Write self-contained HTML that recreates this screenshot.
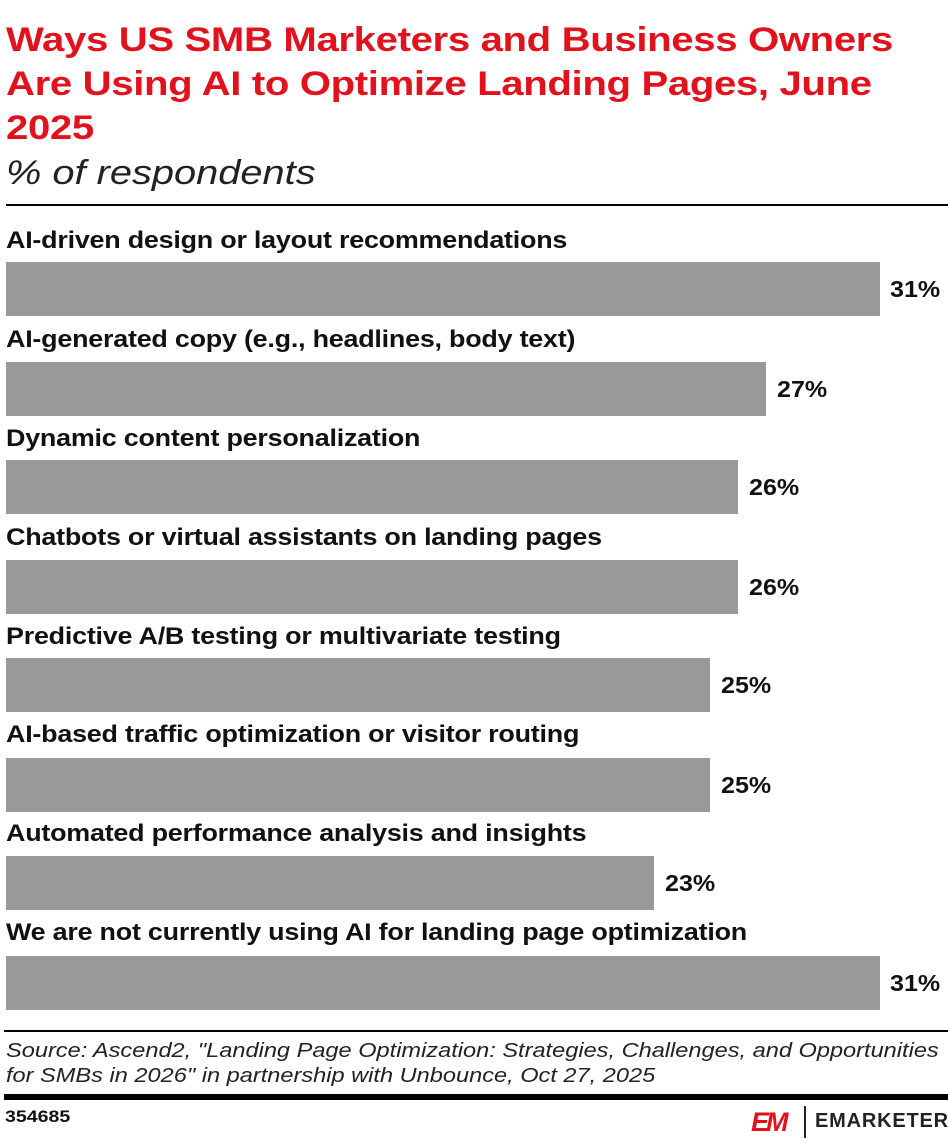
<!DOCTYPE html><html><head><style>
body{margin:0;width:948px;height:1142px;background:#fff;font-family:"Liberation Sans",sans-serif;position:relative;overflow:hidden}
.a{position:absolute;white-space:nowrap;transform-origin:0 0}
.t{left:6px;top:18px;color:#e3111b;font-weight:bold;font-size:34px;line-height:44px;letter-spacing:-0.3px;transform:scaleX(1.18)}
.s{left:6px;top:154px;font-style:italic;font-size:34px;color:#222;transform:scaleX(1.17)}
.l{left:6px;font-weight:bold;font-size:24px;color:#111;letter-spacing:-0.2px;transform:scaleX(1.12)}
.b{left:6px;height:54px;background:#999}
.v{font-weight:bold;font-size:23px;color:#111;transform:scaleX(1.09)}
</style></head><body>
<div class="a t">Ways US SMB Marketers and Business Owners<br>Are Using AI to Optimize Landing Pages, June<br>2025</div>
<div class="a s">% of respondents</div>
<div class="a" style="left:6px;top:204px;width:942px;height:2px;background:#000"></div>

<div class="a l" style="top:227px">AI-driven design or layout recommendations</div>
<div class="a b" style="top:262px;width:874px"></div><div class="a v" style="left:890px;top:276px">31%</div>
<div class="a l" style="top:326px">AI-generated copy (e.g., headlines, body text)</div>
<div class="a b" style="top:362px;width:760px"></div><div class="a v" style="left:777px;top:376px">27%</div>
<div class="a l" style="top:425px">Dynamic content personalization</div>
<div class="a b" style="top:460px;width:732px"></div><div class="a v" style="left:749px;top:474px">26%</div>
<div class="a l" style="top:524px">Chatbots or virtual assistants on landing pages</div>
<div class="a b" style="top:560px;width:732px"></div><div class="a v" style="left:749px;top:574px">26%</div>
<div class="a l" style="top:623px">Predictive A/B testing or multivariate testing</div>
<div class="a b" style="top:658px;width:704px"></div><div class="a v" style="left:721px;top:672px">25%</div>
<div class="a l" style="top:721px">AI-based traffic optimization or visitor routing</div>
<div class="a b" style="top:758px;width:704px"></div><div class="a v" style="left:721px;top:772px">25%</div>
<div class="a l" style="top:820px">Automated performance analysis and insights</div>
<div class="a b" style="top:856px;width:648px"></div><div class="a v" style="left:665px;top:870px">23%</div>
<div class="a l" style="top:919px">We are not currently using AI for landing page optimization</div>
<div class="a b" style="top:956px;width:874px"></div><div class="a v" style="left:890px;top:970px">31%</div>

<div class="a" style="left:4px;top:1030px;width:944px;height:2px;background:#000"></div>
<div class="a" style="left:6px;top:1038px;font-style:italic;font-size:20.5px;line-height:25px;color:#222;transform:scaleX(1.15)">Source: Ascend2, "Landing Page Optimization: Strategies, Challenges, and Opportunities<br>for SMBs in 2026" in partnership with Unbounce, Oct 27, 2025</div>
<div class="a" style="left:4px;top:1094px;width:944px;height:6px;background:#000"></div>
<div class="a" style="left:5px;top:1107px;font-weight:bold;font-size:17px;color:#111;transform:scaleX(1.15)">354685</div>
<div class="a" style="left:751px;top:1108px;font-weight:900;font-style:italic;font-size:27px;color:#e3111b;letter-spacing:-3px;line-height:28px">EM</div>
<div class="a" style="left:804px;top:1106px;width:2px;height:32px;background:#222"></div>
<div class="a" style="left:815px;top:1110px;font-weight:bold;font-size:20px;color:#222;letter-spacing:0.8px">EMARKETER</div>
</body></html>
